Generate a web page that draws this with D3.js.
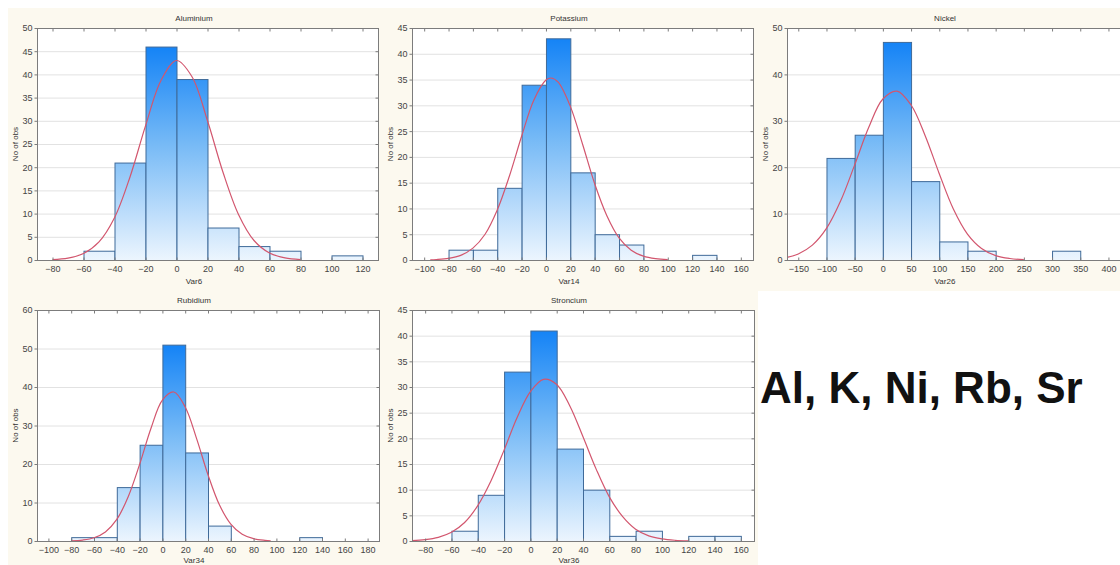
<!DOCTYPE html>
<html>
<head>
<meta charset="utf-8">
<script src="https://cdn.jsdelivr.net/npm/d3@7"></script>
<style>
    body { margin: 0; background: #fff; overflow: hidden; }
    svg { display: block; font-family: Arial, "Liberation Sans", sans-serif; }
</style>
</head>
<body>
<svg id="chart" width="1120" height="565"></svg>
<script>
// histogram bins (edges) and counts, fitted curve
const AL_EDGES = [-60, -40, -20, 0, 20, 40, 60, 80, 100, 120];
const AL_COUNTS = [2, 21, 46, 39, 7, 3, 2, 0, 1];
const AL_CURVE_X = [-80, -70, -60, -50, -40, -30, -20, -10, 0, 10, 20, 30, 40, 50, 60, 70, 80];
const AL_CURVE_Y = [0.1, 0.4, 1.4, 3.9, 9.1, 17.9, 28.9, 38.7, 43.0, 39.5, 30.0, 18.9, 9.8, 4.2, 1.5, 0.45, 0.1];
const AL_X_TICKS = [-80, -60, -40, -20, 0, 20, 40, 60, 80, 100, 120];
const AL_Y_TICKS = [0, 5, 10, 15, 20, 25, 30, 35, 40, 45, 50];

const K_EDGES = [-80, -60, -40, -20, 0, 20, 40, 60, 80, 100, 120, 140];
const K_COUNTS = [2, 2, 14, 34, 43, 17, 5, 3, 0, 0, 1];
const K_CURVE_X = [-95, -90, -80, -70, -60, -50, -40, -30, -20, -10, 0, 4, 10, 20, 30, 40, 50, 60, 70, 80, 90, 100];
const K_CURVE_Y = [0.05, 0.1, 0.32, 0.9, 2.3, 5.0, 9.7, 16.3, 24.0, 31.0, 34.9, 35.3, 34.5, 29.8, 22.5, 14.8, 8.6, 4.3, 1.9, 0.74, 0.25, 0.07];
const K_X_TICKS = [-100, -80, -60, -40, -20, 0, 20, 40, 60, 80, 100, 120, 140, 160];
const K_Y_TICKS = [0, 5, 10, 15, 20, 25, 30, 35, 40, 45];

const NI_EDGES = [-100, -50, 0, 50, 100, 150, 200, 250, 300, 350];
const NI_COUNTS = [22, 27, 47, 17, 4, 2, 0, 0, 2];
const NI_CURVE_X = [-170, -150, -125, -100, -75, -50, -25, 0, 25, 50, 75, 100, 125, 150, 175, 200, 225, 250];
const NI_CURVE_Y = [0.55, 1.3, 3.2, 6.8, 12.7, 20.5, 28.6, 34.7, 36.4, 33.4, 26.8, 18.6, 11.0, 5.6, 2.5, 0.95, 0.32, 0.09];
const NI_X_TICKS = [-150, -100, -50, 0, 50, 100, 150, 200, 250, 300, 350, 400];
const NI_Y_TICKS = [0, 10, 20, 30, 40, 50];

const RB_EDGES = [-80, -60, -40, -20, 0, 20, 40, 60, 80, 100, 120, 140];
const RB_COUNTS = [1, 1, 14, 25, 51, 23, 4, 0, 0, 0, 1];
const RB_CURVE_X = [-80, -70, -60, -50, -40, -30, -20, -10, 0, 10, 20, 30, 40, 50, 60, 70, 80, 90, 95];
const RB_CURVE_Y = [0.06, 0.25, 0.83, 2.35, 5.6, 11.5, 19.9, 29.3, 36.6, 38.7, 34.8, 26.6, 17.2, 9.4, 4.4, 1.75, 0.6, 0.17, 0.07];
const RB_X_TICKS = [-100, -80, -60, -40, -20, 0, 20, 40, 60, 80, 100, 120, 140, 160, 180];
const RB_Y_TICKS = [0, 10, 20, 30, 40, 50, 60];

const SR_EDGES = [-60, -40, -20, 0, 20, 40, 60, 80, 100, 120, 140, 160];
const SR_COUNTS = [2, 9, 33, 41, 18, 10, 1, 2, 0, 1, 1];
const SR_CURVE_X = [-90, -80, -70, -60, -50, -40, -30, -20, -10, 0, 10, 20, 30, 40, 50, 60, 70, 80, 90, 100, 110, 120];
const SR_CURVE_Y = [0.09, 0.27, 0.72, 1.7, 3.6, 6.9, 11.7, 17.7, 24.1, 29.1, 31.5, 30.5, 26.3, 20.3, 14.0, 8.6, 4.8, 2.3, 1.0, 0.4, 0.14, 0.04];
const SR_X_TICKS = [-80, -60, -40, -20, 0, 20, 40, 60, 80, 100, 120, 140, 160];
const SR_Y_TICKS = [0, 5, 10, 15, 20, 25, 30, 35, 40, 45];

const TITLES = ["Aluminium", "Potassium", "Nickel", "Rubidium", "Stroncium"];
const X_LABELS = ["Var6", "Var14", "Var26", "Var34", "Var36"];
const Y_LABEL = "No of obs";
const SUMMARY = "Al, K, Ni, Rb, Sr";

const CREAM = "#fcf9ef";
const BAR_STROKE = "#3f6a99";
const CURVE_COLOR = "#d2566e";

const panels = [
    { id: "al", title: TITLES[0], xlab: X_LABELS[0], edges: AL_EDGES, counts: AL_COUNTS, cx: AL_CURVE_X, cy: AL_CURVE_Y, xt: AL_X_TICKS, yt: AL_Y_TICKS,
      left: 37, right: 378, top: 28, bottom: 260, xd: [-90, 130], mid: 194, labY: 284 },
    { id: "k", title: TITLES[1], xlab: X_LABELS[1], edges: K_EDGES, counts: K_COUNTS, cx: K_CURVE_X, cy: K_CURVE_Y, xt: K_X_TICKS, yt: K_Y_TICKS,
      left: 412, right: 753, top: 28, bottom: 260, xd: [-110, 170], mid: 569, labY: 284 },
    { id: "ni", title: TITLES[2], xlab: X_LABELS[2], edges: NI_EDGES, counts: NI_COUNTS, cx: NI_CURVE_X, cy: NI_CURVE_Y, xt: NI_X_TICKS, yt: NI_Y_TICKS,
      left: 787, right: 1131, top: 28, bottom: 260, xd: [-170, 440], mid: 945, labY: 284 },
    { id: "rb", title: TITLES[3], xlab: X_LABELS[3], edges: RB_EDGES, counts: RB_COUNTS, cx: RB_CURVE_X, cy: RB_CURVE_Y, xt: RB_X_TICKS, yt: RB_Y_TICKS,
      left: 37, right: 379, top: 310, bottom: 541, xd: [-110, 190], mid: 194, labY: 563 },
    { id: "sr", title: TITLES[4], xlab: X_LABELS[4], edges: SR_EDGES, counts: SR_COUNTS, cx: SR_CURVE_X, cy: SR_CURVE_Y, xt: SR_X_TICKS, yt: SR_Y_TICKS,
      left: 412, right: 754, top: 310, bottom: 541, xd: [-90, 170], mid: 569, labY: 563 }
];

const svg = d3.select("#chart");
const defs = svg.append("defs");

// cream panel background
svg.append("path")
    .attr("d", "M8,8 H1120 V291 H758 V565 H8 Z")
    .attr("fill", CREAM);

function drawPanel(p) {
    const x = d3.scaleLinear().domain(p.xd).range([p.left, p.right]);
    const yMax = p.yt[p.yt.length - 1];
    const y = d3.scaleLinear().domain([0, yMax]).range([p.bottom, p.top]);
    const g = svg.append("g");

    g.append("rect")
        .attr("x", p.left).attr("y", p.top)
        .attr("width", p.right - p.left).attr("height", p.bottom - p.top)
        .attr("fill", "#fff");

    // gridlines
    g.selectAll(".grid")
        .data(p.yt.slice(1, -1))
        .enter().append("line")
        .attr("x1", p.left).attr("x2", p.right)
        .attr("y1", d => y(d) + 0.5).attr("y2", d => y(d) + 0.5)
        .attr("stroke", "#e2e2e2").attr("stroke-width", 1);

    const grad = defs.append("linearGradient")
        .attr("id", "grad-" + p.id)
        .attr("gradientUnits", "userSpaceOnUse")
        .attr("x1", 0).attr("x2", 0)
        .attr("y1", y(d3.max(p.counts))).attr("y2", y(0));
    grad.append("stop").attr("offset", "0%").attr("stop-color", "#1483f6");
    grad.append("stop").attr("offset", "45%").attr("stop-color", "#75b9f6");
    grad.append("stop").attr("offset", "100%").attr("stop-color", "#ecf5fe");

    const bins = p.counts.map((c, i) => ({ x0: p.edges[i], x1: p.edges[i + 1], n: c })).filter(b => b.n > 0);
    g.selectAll(".bar")
        .data(bins)
        .enter().append("rect")
        .attr("x", d => x(d.x0) + 0.5)
        .attr("width", d => x(d.x1) - x(d.x0))
        .attr("y", d => y(d.n) + 0.5)
        .attr("height", d => y(0) - y(d.n))
        .attr("fill", "url(#grad-" + p.id + ")")
        .attr("stroke", BAR_STROKE)
        .attr("stroke-width", 1);

    const pts = p.cx.map((v, i) => [v, p.cy[i]]);
    g.append("path")
        .datum(pts)
        .attr("fill", "none")
        .attr("stroke", CURVE_COLOR)
        .attr("stroke-width", 1.2)
        .attr("d", d3.line()
            .x(d => x(d[0]))
            .y(d => y(d[1]))
            .curve(d3.curveCatmullRom));

    // frame
    g.append("rect")
        .attr("x", p.left + 0.5).attr("y", p.top + 0.5)
        .attr("width", p.right - p.left).attr("height", p.bottom - p.top)
        .attr("fill", "none")
        .attr("stroke", "#7c7c7c");

    const bottomAxis = g.append("g")
        .attr("transform", "translate(0," + (p.bottom + 0.5) + ")")
        .call(d3.axisBottom(x).tickValues(p.xt).tickSize(-3).tickPadding(5));
    const topAxis = g.append("g")
        .attr("transform", "translate(0," + (p.top + 0.5) + ")")
        .call(d3.axisTop(x).tickValues(p.xt).tickSize(-3).tickFormat(""));
    const leftAxis = g.append("g")
        .attr("transform", "translate(" + (p.left + 0.5) + ",0)")
        .call(d3.axisLeft(y).tickValues(p.yt).tickSize(3).tickPadding(2));
    const rightAxis = g.append("g")
        .attr("transform", "translate(" + (p.right + 0.5) + ",0)")
        .call(d3.axisRight(y).tickValues(p.yt).tickSize(-3).tickFormat(""));

    [bottomAxis, topAxis, leftAxis, rightAxis].forEach(a => {
        a.select(".domain").remove();
        a.selectAll("line").attr("stroke", "#7c7c7c");
        a.selectAll("text").attr("fill", "#444").style("font-size", "9px");
    });

    g.append("text")
        .attr("x", p.mid).attr("y", p.top - 7)
        .attr("text-anchor", "middle")
        .attr("fill", "#333")
        .style("font-size", "8px")
        .text(p.title);

    g.append("text")
        .attr("x", p.mid).attr("y", p.labY)
        .attr("text-anchor", "middle")
        .attr("fill", "#333")
        .style("font-size", "8px")
        .text(p.xlab);

    g.append("text")
        .attr("transform", "translate(" + (p.left - 19) + "," + ((p.top + p.bottom) / 2) + ")rotate(-90)")
        .attr("text-anchor", "middle")
        .attr("fill", "#333")
        .style("font-size", "8px")
        .text(Y_LABEL);
}

panels.forEach(drawPanel);

svg.append("text")
    .attr("x", 760).attr("y", 403)
    .attr("fill", "#111")
    .style("font-size", "44px")
    .style("font-weight", "bold")
    .text(SUMMARY);
</script>
</body>
</html>
